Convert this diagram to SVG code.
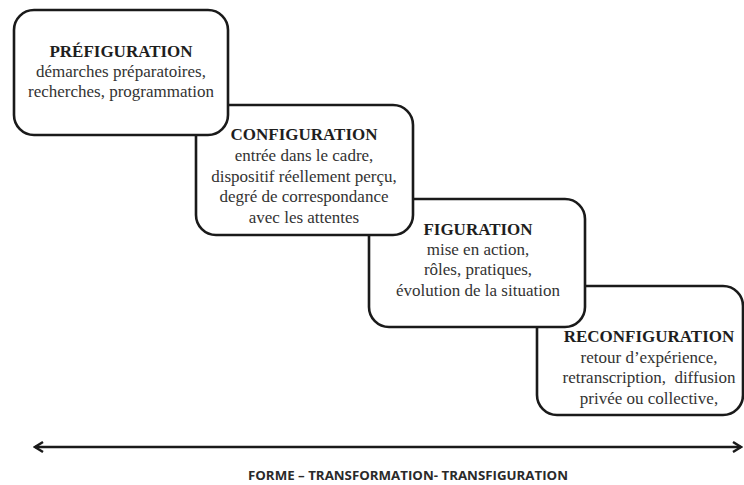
<svg xmlns="http://www.w3.org/2000/svg" width="744" height="485" viewBox="0 0 744 485">
<style>
.box{fill:#fff;stroke:#1a1a1a;stroke-width:2.6}
.t{font-family:"Liberation Serif","Times New Roman",serif;font-size:17px;text-anchor:middle;fill:#333}
.h{font-weight:bold;fill:#1e1e1e}
.ax{font-family:"Open Sans","Liberation Sans",sans-serif;font-size:12px;font-weight:bold;fill:#2a2a2a;text-anchor:middle}
</style>
<defs>
<marker id="ah" viewBox="0 0 12 12" refX="10" refY="6" markerWidth="12" markerHeight="12" markerUnits="userSpaceOnUse" orient="auto-start-reverse">
<path d="M2,1 L10,6 L2,11" fill="none" stroke="#1a1a1a" stroke-width="2.4"/>
</marker>
</defs>
<g id="node-reconfiguration">
<rect class="box" x="537" y="286" width="206" height="129" rx="20"/>
<text class="t" x="649" y="342"><tspan class="h">RECONFIGURATION</tspan><tspan x="649" y="363">retour d’expérience,</tspan><tspan x="649" y="383">retranscription,&#160; diffusion</tspan><tspan x="649" y="404">privée ou collective,</tspan></text>
</g>
<g id="node-figuration">
<rect class="box" x="369" y="199" width="216" height="128" rx="20"/>
<text class="t" x="478" y="235"><tspan class="h">FIGURATION</tspan><tspan x="478" y="255">mise en action,</tspan><tspan x="478" y="275">rôles, pratiques,</tspan><tspan x="478" y="296">évolution de la situation</tspan></text>
</g>
<g id="node-configuration">
<rect class="box" x="196" y="105" width="217" height="130" rx="20"/>
<text class="t" x="304" y="140"><tspan class="h">CONFIGURATION</tspan><tspan x="304" y="161">entrée dans le cadre,</tspan><tspan x="304" y="182">dispositif réellement perçu,</tspan><tspan x="304" y="202">degré de correspondance</tspan><tspan x="304" y="223">avec les attentes</tspan></text>
</g>
<g id="node-prefiguration">
<rect class="box" x="14" y="10" width="214" height="125" rx="20"/>
<text class="t" x="121" y="57"><tspan class="h">PRÉFIGURATION</tspan><tspan x="121" y="77">démarches préparatoires,</tspan><tspan x="121" y="97">recherches, programmation</tspan></text>
</g>
<g id="connectors">
<line x1="35" y1="447" x2="741" y2="447" stroke="#1a1a1a" stroke-width="2.6" marker-start="url(#ah)" marker-end="url(#ah)"/>
</g>
<text class="ax" x="408" y="480" textLength="320" lengthAdjust="spacingAndGlyphs">FORME – TRANSFORMATION- TRANSFIGURATION</text>
</svg>
